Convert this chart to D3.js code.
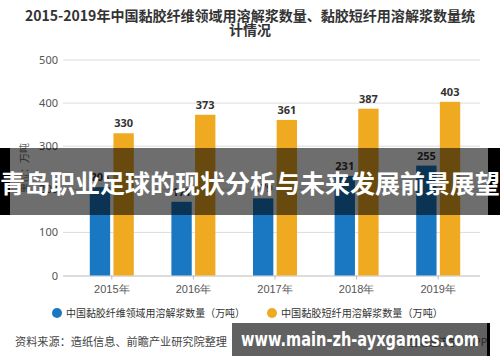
<!DOCTYPE html>
<html>
<head>
<meta charset="utf-8">
<script src="https://cdn.jsdelivr.net/npm/d3@7"></script>
<style>
  body { margin: 0; background: #fff; }
  svg { display: block; font-family: "Microsoft YaHei", "Noto Sans CJK SC", sans-serif; }
</style>
</head>
<body>
<svg id="chart" width="500" height="362"></svg>
<script>
// chart data
var years = ["2015年", "2016年", "2017年", "2018年", "2019年"];
var fiberValues = [205, 171, 179, 231, 255];   // 黏胶纤维领域
var staple = [330, 373, 361, 387, 403];        // 黏胶短纤
var seriesNames = ["中国黏胶纤维领域用溶解浆数量（万吨）", "中国黏胶短纤用溶解浆数量（万吨）"];
var yTicks = [0, 100, 200, 300, 400, 500];

var colors = ["#1a78c2", "#f0aa22"];

var svg = d3.select("#chart");

// title
svg.append("text")
	.attr("x", 250).attr("y", 21)
	.attr("text-anchor", "middle")
	.attr("font-size", 14).attr("font-weight", "bold").attr("fill", "#333")
	.attr("textLength", 450).attr("lengthAdjust", "spacingAndGlyphs")
	.text("2015-2019年中国黏胶纤维领域用溶解浆数量、黏胶短纤用溶解浆数量统");
svg.append("text")
	.attr("x", 250).attr("y", 35)
	.attr("text-anchor", "middle")
	.attr("font-size", 14).attr("font-weight", "bold").attr("fill", "#333")
	.text("计情况");

// scales
var x = d3.scaleBand().domain(years).range([71, 479]);
var xSub = d3.scaleBand().domain([0, 1]).range([-22, 22]).paddingInner(0.14);
var y = d3.scaleLinear().domain([0, 500]).range([275.5, 60]);

// gridlines
svg.append("g")
	.selectAll("line")
	.data(yTicks.slice(1))
	.enter().append("line")
		.attr("x1", 63).attr("x2", 480)
		.attr("y1", function(d) { return y(d); })
		.attr("y2", function(d) { return y(d); })
		.attr("stroke", "#dcdcdc").attr("stroke-width", 1);

// y axis labels
var yAxis = svg.append("g")
	.attr("transform", "translate(63,0)")
	.call(d3.axisLeft(y).tickValues(yTicks).tickSize(0).tickPadding(5));
yAxis.select(".domain").remove();
yAxis.selectAll("text").attr("font-size", 11).attr("fill", "#555").attr("font-family", "'Noto Sans', sans-serif");

// x axis
var xAxis = svg.append("g")
	.attr("transform", "translate(0," + y(0) + ")")
	.call(d3.axisBottom(x).tickSize(4).tickPadding(6).tickSizeOuter(0));
xAxis.select(".domain").attr("d", "M63,0.5H480").attr("stroke", "#bbb");
xAxis.selectAll(".tick line").attr("stroke", "#bbb");
xAxis.selectAll("text").attr("font-size", 11).attr("fill", "#555");

// bars
var series = [fiberValues, staple];
series.forEach(function(vals, si) {
	var g = svg.append("g");
	g.selectAll("rect")
		.data(vals)
		.enter().append("rect")
			.attr("x", function(d, i) { return x(years[i]) + x.bandwidth() / 2 + xSub(si); })
			.attr("width", xSub.bandwidth())
			.attr("y", function(d) { return y(d); })
			.attr("height", function(d) { return y(0) - y(d); })
			.attr("fill", colors[si]);
	g.selectAll("text")
		.data(vals)
		.enter().append("text")
			.attr("x", function(d, i) { return x(years[i]) + x.bandwidth() / 2 + xSub(si) + xSub.bandwidth() / 2; })
			.attr("y", function(d) { return y(d) - 6; })
			.attr("text-anchor", "middle")
			.attr("font-size", 11).attr("font-weight", "bold").attr("fill", "#333")
			.attr("font-family", "'Noto Sans', sans-serif")
			.text(function(d) { return d; });
});

// y axis title
svg.append("text")
	.attr("transform", "translate(28,168) rotate(-90)")
	.attr("text-anchor", "middle")
	.attr("font-size", 10).attr("fill", "#666")
	.text("单位：万吨");

// legend
var legendX = [57, 272];
var legendW = [179, 162];
seriesNames.forEach(function(name, i) {
	svg.append("circle").attr("cx", legendX[i]).attr("cy", 313).attr("r", 5).attr("fill", colors[i]);
	svg.append("text")
		.attr("x", legendX[i] + 9).attr("y", 317)
		.attr("font-size", 10.5).attr("fill", "#333")
		.attr("textLength", legendW[i]).attr("lengthAdjust", "spacingAndGlyphs")
		.text(name);
});

// source
svg.append("text")
	.attr("x", 15).attr("y", 346)
	.attr("font-size", 11).attr("fill", "#444")
	.attr("textLength", 212).attr("lengthAdjust", "spacingAndGlyphs")
	.text("资料来源：造纸信息、前瞻产业研究院整理");
svg.append("text")
	.attr("x", 487).attr("y", 346)
	.attr("text-anchor", "end")
	.attr("font-size", 10).attr("fill", "#666")
	.text("◎ 前瞻经济学人APP");

// overlay banner
svg.append("rect").attr("x", 0).attr("y", 148).attr("width", 500).attr("height", 67).attr("fill", "#000").attr("opacity", 0.57);
svg.append("rect").attr("x", 0).attr("y", 148).attr("width", 10).attr("height", 67).attr("fill", "#000");
svg.append("rect").attr("x", 488).attr("y", 148).attr("width", 12).attr("height", 67).attr("fill", "#000");
svg.append("text")
	.attr("x", 250).attr("y", 193)
	.attr("text-anchor", "middle")
	.attr("font-size", 25).attr("font-weight", "bold").attr("fill", "#fff")
	.attr("textLength", 500).attr("lengthAdjust", "spacingAndGlyphs")
	.text("青岛职业足球的现状分析与未来发展前景展望");

// url watermark
svg.append("rect").attr("x", 232).attr("y", 323).attr("width", 258).attr("height", 33).attr("fill", "#000").attr("opacity", 0.62);
svg.append("rect").attr("x", 487).attr("y", 323).attr("width", 3).attr("height", 33).attr("fill", "#000");
svg.append("text")
	.attr("x", 360).attr("y", 346)
	.attr("text-anchor", "middle")
	.attr("font-size", 19).attr("font-weight", "bold").attr("fill", "#fff")
	.attr("font-family", "'DejaVu Sans', sans-serif")
	.attr("textLength", 238).attr("lengthAdjust", "spacingAndGlyphs")
	.text("www.main-zh-ayxgames.com");
</script>
</body>
</html>
